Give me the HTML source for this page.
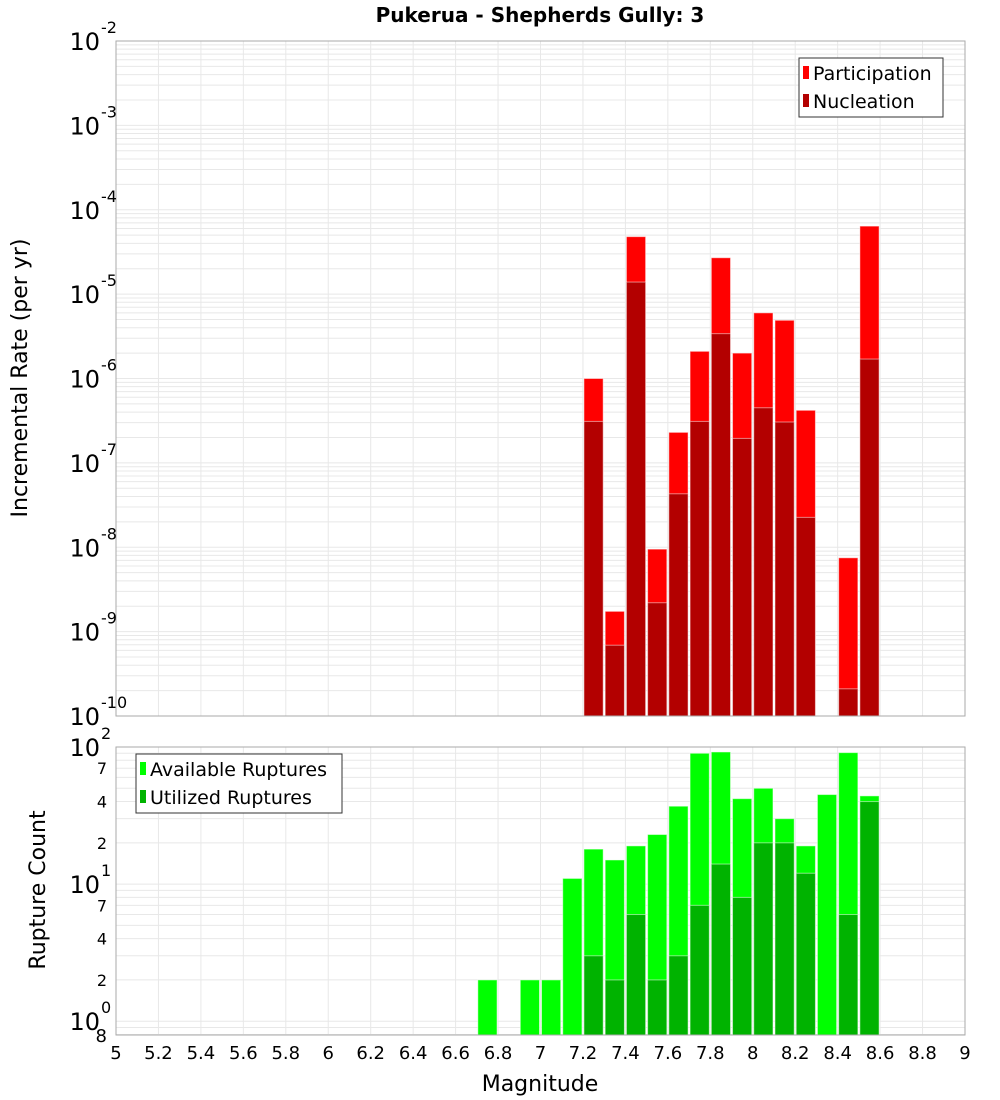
<!DOCTYPE html>
<html><head><meta charset="utf-8"><style>
body{margin:0;background:#fff;}
svg{display:block;font-family:"DejaVu Sans","Liberation Sans",sans-serif;}
</style></head><body>
<svg id="chart" width="1000" height="1100" xmlns="http://www.w3.org/2000/svg">
<text x="540" y="22" text-anchor="middle" font-size="20" font-weight="bold">Pukerua - Shepherds Gully: 3</text>
<g id="topPlot"></g>
<g id="botPlot"></g>
<text transform="translate(27,378) rotate(-90)" text-anchor="middle" font-size="22">Incremental Rate (per yr)</text>
<text transform="translate(45,890) rotate(-90)" text-anchor="middle" font-size="22">Rupture Count</text>
<text x="540" y="1091" text-anchor="middle" font-size="22">Magnitude</text>
<g>
<rect x="799" y="58" width="144" height="59" fill="#fff" stroke="#333" stroke-width="1"/>
<rect x="803" y="66" width="6" height="13" fill="#ff0000"/>
<text x="813" y="80" font-size="19">Participation</text>
<rect x="803" y="94" width="6" height="13" fill="#b30000"/>
<text x="813" y="108" font-size="19">Nucleation</text>
</g>
<g>
<rect x="136" y="754" width="206" height="59" fill="#fff" stroke="#333" stroke-width="1"/>
<rect x="140" y="762" width="6" height="13" fill="#00ff00"/>
<text x="150" y="776" font-size="19">Available Ruptures</text>
<rect x="140" y="790" width="6" height="13" fill="#00b300"/>
<text x="150" y="804" font-size="19">Utilized Ruptures</text>
</g>
</svg>
<script>
const mags = [6.75,6.85,6.95,7.05,7.15,7.25,7.35,7.45,7.55,7.65,7.75,7.85,7.95,8.05,8.15,8.25,8.35,8.45,8.55];
const participation = [0,0,0,0,0,1.0e-6,1.74e-9,4.8e-5,9.5e-9,2.3e-7,2.1e-6,2.7e-5,2.0e-6,6.0e-6,4.9e-6,4.2e-7,0,7.5e-9,6.4e-5];
const nucleation = [0,0,0,0,0,3.1e-7,6.9e-10,1.39e-5,2.2e-9,4.3e-8,3.1e-7,3.4e-6,1.95e-7,4.5e-7,3.05e-7,2.26e-8,0,2.1e-10,1.7e-6];
const available = [2,0,2,2,11,18,15,19,23,37,90,92,42,50,30,19,45,91,44];
const utilized = [0,0,0,0,0,3,2,6,2,3,7,14,8,20,20,12,0,6,40];
const xTicks = [5,5.2,5.4,5.6,5.8,6,6.2,6.4,6.6,6.8,7,7.2,7.4,7.6,7.8,8,8.2,8.4,8.6,8.8,9];
const topExps = [-2,-3,-4,-5,-6,-7,-8,-9,-10];
const botExps = [2,1,0];
const botMinor = [2,4,7];

const NS="http://www.w3.org/2000/svg";
const L=116,R=965;
const X=m=>L+(m-5)*(R-L)/4;
const T0=41,T1=716;
const YT=v=>T0+(-2-Math.log10(v))*(T1-T0)/8;
const B0=747,B1=1035,BD=137.1;
const YB=v=>B0+(2-Math.log10(v))*BD;
const barW=(R-L)/40;
function mk(parent,tag,attrs){const e=document.createElementNS(NS,tag);for(const k in attrs)e.setAttribute(k,attrs[k]);parent.appendChild(e);return e;}
const topG=document.getElementById('topPlot'), botG=document.getElementById('botPlot');

function grid(g,y0,y1,yfn,lo,hi){
  for(let e=lo;e<hi;e++){for(let k=1;k<10;k++){const y=yfn(k*Math.pow(10,e));if(y<y0-0.5||y>y1+0.5)continue;
    const ln=mk(g,'line',{x1:L,x2:R,y1:y,y2:y,stroke:'#e8e8e8','stroke-width':1});
    
    }}
  xTicks.forEach(t=>{const ln=mk(g,'line',{x1:X(t),x2:X(t),y1:y0,y2:y1,stroke:'#e8e8e8','stroke-width':1});
    
    });
}
mk(topG,'rect',{x:L,y:T0,width:R-L,height:T1-T0,fill:'#fff'});
grid(topG,T0,T1,YT,-10,-2);
mk(botG,'rect',{x:L,y:B0,width:R-L,height:B1-B0,fill:'#fff'});
grid(botG,B0,B1,YB,-1,2);

function bars(g,vals,color,yfn,base,name){
  mags.forEach((m,i)=>{const v=vals[i];if(!v)return;const y=Math.max(yfn(v),0);
    const r=mk(g,'rect',{x:X(m)-barW/2+1,y:y,width:barW-2,height:base-y,fill:color,stroke:'rgba(255,255,255,0.5)','stroke-width':1});
    
    });
}
bars(topG,participation,'#ff0000',YT,T1,'participation');
bars(topG,nucleation,'#b30000',YT,T1,'nucleation');
bars(botG,available,'#00ff00',YB,B1,'available');
bars(botG,utilized,'#00b300',YB,B1,'utilized');

mk(topG,'rect',{x:L,y:T0,width:R-L,height:T1-T0,fill:'none',stroke:'#aaa','stroke-width':1});
mk(botG,'rect',{x:L,y:B0,width:R-L,height:B1-B0,fill:'none',stroke:'#aaa','stroke-width':1});

function powLabel(g,y,exp){
  const t=mk(g,'text',{x:100,y:y+9,'text-anchor':'end','font-size':24});
  
  
  t.textContent='10';
  const s=mk(g,'text',{x:101,y:y-8,'font-size':16});
  
  
  s.textContent=String(exp);
}
topExps.forEach(e=>powLabel(topG,YT(Math.pow(10,e)),e));
botExps.forEach(e=>powLabel(botG,YB(Math.pow(10,e)),e));
[1,10].forEach(d=>botMinor.forEach(k=>{const t=mk(botG,'text',{x:107,y:YB(k*d)+6,'text-anchor':'end','font-size':16});
  
  
  t.textContent=String(k);}));
{const t=mk(botG,'text',{x:107,y:1042,'text-anchor':'end','font-size':18});
 
 
 t.textContent='8';}
xTicks.forEach(v=>{const t=mk(botG,'text',{x:X(v),y:1059,'text-anchor':'middle','font-size':18});
  
  
  t.textContent=String(v);});
</script>
</body></html>
